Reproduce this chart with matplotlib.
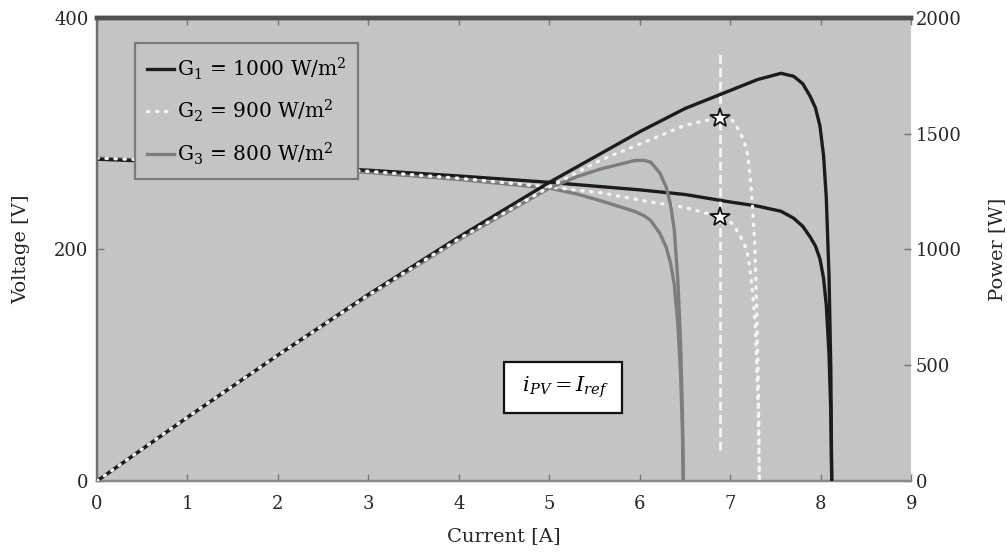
import matplotlib
matplotlib.use("Agg")
import matplotlib.pyplot as plt

plt.rcParams["font.family"] = ["DejaVu Serif"]
plt.rcParams["mathtext.fontset"] = "dejavuserif"

# PV characteristics: terminal voltage [V] and power [W] versus current [A]
i_g1 = [0, 1, 2, 3, 4, 5, 6, 6.5, 7, 7.3, 7.56, 7.7, 7.8, 7.88, 7.94, 7.99,
        8.03, 8.06, 8.09, 8.11, 8.12]
v_g1 = [278, 275, 272, 268.5, 263.5, 258, 251.5, 247.5, 241, 237.5, 233, 227,
        220, 211, 203, 192, 175, 152, 110, 60, 0]
p_g1 = [0, 275, 544, 806, 1054, 1290, 1509, 1609, 1687, 1734, 1761, 1748,
        1716, 1663, 1612, 1534, 1405, 1225, 890, 487, 0]

i_g2 = [0, 1, 2, 3, 4, 5, 5.57, 6.12, 6.49, 6.68, 6.88, 7.0, 7.06, 7.12, 7.18,
        7.21, 7.24, 7.27, 7.29, 7.31, 7.32]
v_g2 = [279, 276, 272, 267.5, 261.5, 254, 249, 241, 236.5, 232.5, 228, 224,
        218, 210, 200, 187, 168, 140, 105, 55, 0]
p_g2 = [0, 276, 544, 803, 1046, 1270, 1387, 1475, 1535, 1553, 1569, 1568,
        1539, 1495, 1436, 1348, 1216, 1018, 765, 402, 0]

i_g3 = [0, 1, 2, 3, 4, 5, 5.3, 5.57, 5.94, 6.05, 6.12, 6.22, 6.29, 6.34, 6.38,
        6.42, 6.45, 6.47, 6.48]
v_g3 = [279, 275.5, 271.5, 266.5, 260.5, 253, 248, 242, 233, 229, 225, 214,
        202, 188, 170, 135, 92, 45, 0]
p_g3 = [0, 276, 543, 800, 1042, 1265, 1314, 1348, 1384, 1385, 1377, 1331,
        1271, 1192, 1085, 867, 593, 291, 0]

labels = [r"$\mathrm{G}_1$ = 1000 W/m$^2$",
          r"$\mathrm{G}_2$ = 900 W/m$^2$",
          r"$\mathrm{G}_3$ = 800 W/m$^2$"]

# operating point imposed by the current reference
i_ref = 6.88
v_ref = 228
p_ref = 1569
ref_line_v = (27, 370)

x_ticks = list(range(0, 10))
v_ticks = [0, 200, 400]
p_ticks = [0, 500, 1000, 1500, 2000]

face = "#c3c4c6"
tick_col = "#777777"
text_col = "#262626"

fig = plt.figure(figsize=(10.07, 5.53), dpi=100)
ax = fig.add_axes([0.0963, 0.1302, 0.8087, 0.8373])
ax2 = ax.twinx()
ax.set_facecolor(face)

lw = 2.4
dots = (0, (0.4, 2.3))
h3, = ax.plot(i_g3, v_g3, color="#7d7d7d", lw=lw, label=labels[2], zorder=2)
h1, = ax.plot(i_g1, v_g1, color="#1c1c1c", lw=lw, label=labels[0], zorder=3)
h2, = ax.plot(i_g2, v_g2, color="#f4f4f4", lw=lw, ls=dots,
              dash_capstyle="round", label=labels[1], zorder=4)

ax2.plot(i_g3, p_g3, color="#7d7d7d", lw=lw, zorder=2)
ax2.plot(i_g1, p_g1, color="#1c1c1c", lw=lw, zorder=3)
ax2.plot(i_g2, p_g2, color="#f4f4f4", lw=lw, ls=dots,
         dash_capstyle="round", zorder=4)

ax.plot([i_ref, i_ref], ref_line_v, color="#f4f4f4", lw=2.0,
        ls=(0, (3.2, 1.6)), zorder=5)
ax.plot([i_ref], [v_ref], marker="*", ms=15, mfc="white", mec="#111111",
        mew=1.3, ls="none", zorder=6)
ax2.plot([i_ref], [p_ref], marker="*", ms=15, mfc="white", mec="#111111",
         mew=1.3, ls="none", zorder=6)

ax.text(5.15, 81, r"$\;i_{PV} = I_{ref}\;$", fontsize=15, ha="center",
        va="center", zorder=7,
        bbox=dict(boxstyle="square,pad=0.62", fc="white", ec="#111111",
                  lw=1.6))

ax.set_xlim(0, 9)
ax.set_ylim(0, 400)
ax2.set_ylim(0, 2000)
ax.set_xticks(x_ticks)
ax.set_yticks(v_ticks)
ax2.set_yticks(p_ticks)

ax.set_xlabel("Current [A]", fontsize=14, color=text_col)
ax.set_ylabel("Voltage [V]", fontsize=14, color=text_col)
ax2.set_ylabel("Power [W]", fontsize=14, color=text_col)
ax.xaxis.set_label_coords(0.5, -0.100)
ax.yaxis.set_label_coords(-0.082, 0.5)
ax2.yaxis.set_label_coords(1.094, 0.5)

ax.tick_params(axis="x", direction="in", length=5, width=1, color=tick_col,
               labelsize=13, labelcolor=text_col, pad=10, top=True)
ax.tick_params(axis="y", direction="in", length=5, width=1, color=tick_col,
               labelsize=13, labelcolor=text_col, pad=6)
ax2.tick_params(axis="y", direction="in", length=5, width=1, color=tick_col,
                labelsize=13, labelcolor=text_col, pad=3)

for a in (ax, ax2):
    a.spines["right"].set_visible(False)
    a.spines["top"].set_color("#505050")
    a.spines["top"].set_linewidth(3.2)
    a.spines["left"].set_color("#6e6e6e")
    a.spines["left"].set_linewidth(1.6)
    a.spines["bottom"].set_color("#8a8a8a")
    a.spines["bottom"].set_linewidth(1.6)

leg = ax2.legend([h1, h2, h3], labels, loc="upper left",
                 bbox_to_anchor=(0.047, 0.946), borderaxespad=0,
                 fontsize=14.5, frameon=True, fancybox=False,
                 facecolor=face, edgecolor="#7a7a7a", framealpha=1,
                 handlelength=1.3, handletextpad=0.15, labelspacing=0.8,
                 borderpad=0.6)
leg.get_frame().set_linewidth(1.6)
leg.set_zorder(10)

fig.savefig("out.png", dpi=100)
